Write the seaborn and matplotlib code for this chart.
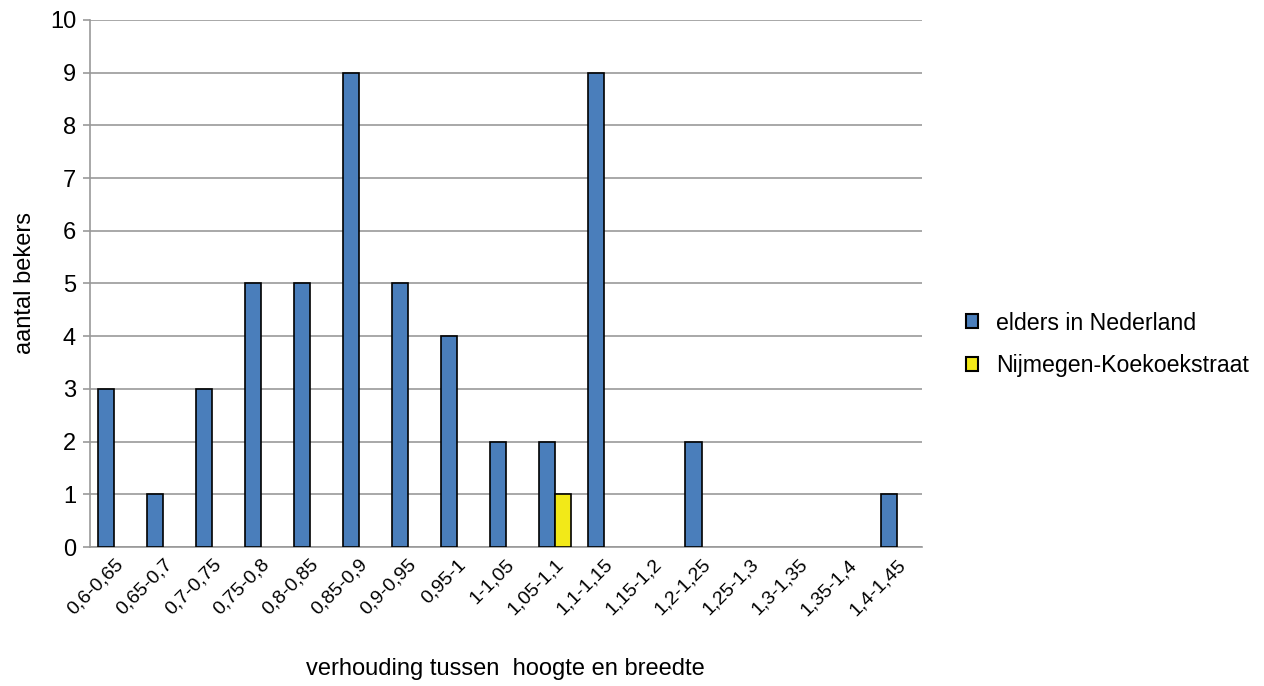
import matplotlib
matplotlib.use("Agg")
import matplotlib.pyplot as plt
import seaborn as sns
import pandas as pd

klassen = ['0,6-0,65', '0,65-0,7', '0,7-0,75', '0,75-0,8', '0,8-0,85', '0,85-0,9',
           '0,9-0,95', '0,95-1', '1-1,05', '1,05-1,1', '1,1-1,15', '1,15-1,2',
           '1,2-1,25', '1,25-1,3', '1,3-1,35', '1,35-1,4', '1,4-1,45']
elders = [3, 1, 3, 5, 5, 9, 5, 4, 2, 2, 9, 0, 2, 0, 0, 0, 1]
nijmegen = [0, 0, 0, 0, 0, 0, 0, 0, 0, 1, 0, 0, 0, 0, 0, 0, 0]
reeksen = ['elders in Nederland', 'Nijmegen-Koekoekstraat']

df = pd.DataFrame({
    'klasse': klassen * 2,
    'aantal': elders + nijmegen,
    'reeks': [reeksen[0]] * len(klassen) + [reeksen[1]] * len(klassen),
})

sns.set_style("white")
plt.rcParams['font.family'] = ['Liberation Sans', 'DejaVu Sans']
plt.rcParams['text.color'] = 'black'

fig = plt.figure(figsize=(12.64, 6.86), dpi=100)
ax = fig.add_axes([0.0712, 0.2026, 0.658, 0.7684])

sns.barplot(data=df, x='klasse', y='aantal', hue='reeks', order=klassen,
            hue_order=reeksen, palette=['#4a7ebb', '#f2e918'], width=0.66,
            edgecolor='black', linewidth=1.2, saturation=1, ax=ax, zorder=3)

# lege klassen: geen zwarte streep op de as
for cont in ax.containers:
    for p in cont:
        if p.get_height() == 0:
            p.set_visible(False)

ax.set_ylim(0, 10)
ax.set_xlim(-0.5, len(klassen) - 0.5)
ax.set_yticks(range(0, 11))
ax.yaxis.grid(True, color='#999999', linewidth=1.2, zorder=0)
ax.set_axisbelow(True)
for side in ['top', 'right']:
    ax.spines[side].set_visible(False)
for side in ['left', 'bottom']:
    ax.spines[side].set_color('#999999')
    ax.spines[side].set_linewidth(1.2)

ax.tick_params(axis='y', labelsize=17, left=True, length=5, color='#999999', width=1.2,
               pad=5, labelcolor='black')
ax.tick_params(axis='x', labelsize=14, bottom=False, pad=3, labelcolor='black')
plt.setp(ax.get_xticklabels(), rotation=45, ha='right', rotation_mode='anchor')

ax.set_xlabel('verhouding tussen  hoogte en breedte', fontsize=17, labelpad=28, color='black')
ax.set_ylabel('aantal bekers', fontsize=17, labelpad=10, color='black')

leg = ax.legend(loc='center left', bbox_to_anchor=(0.764, 0.498), bbox_transform=fig.transFigure,
                frameon=False, fontsize=16.7, handlelength=0.55, handleheight=0.55,
                labelspacing=0.85, handletextpad=0.75, borderpad=0, borderaxespad=0)
for h in leg.legend_handles:
    h.set_visible(True)
    h.set_edgecolor('black')
    h.set_linewidth(1.5)

fig.savefig('out.png', dpi=100)
